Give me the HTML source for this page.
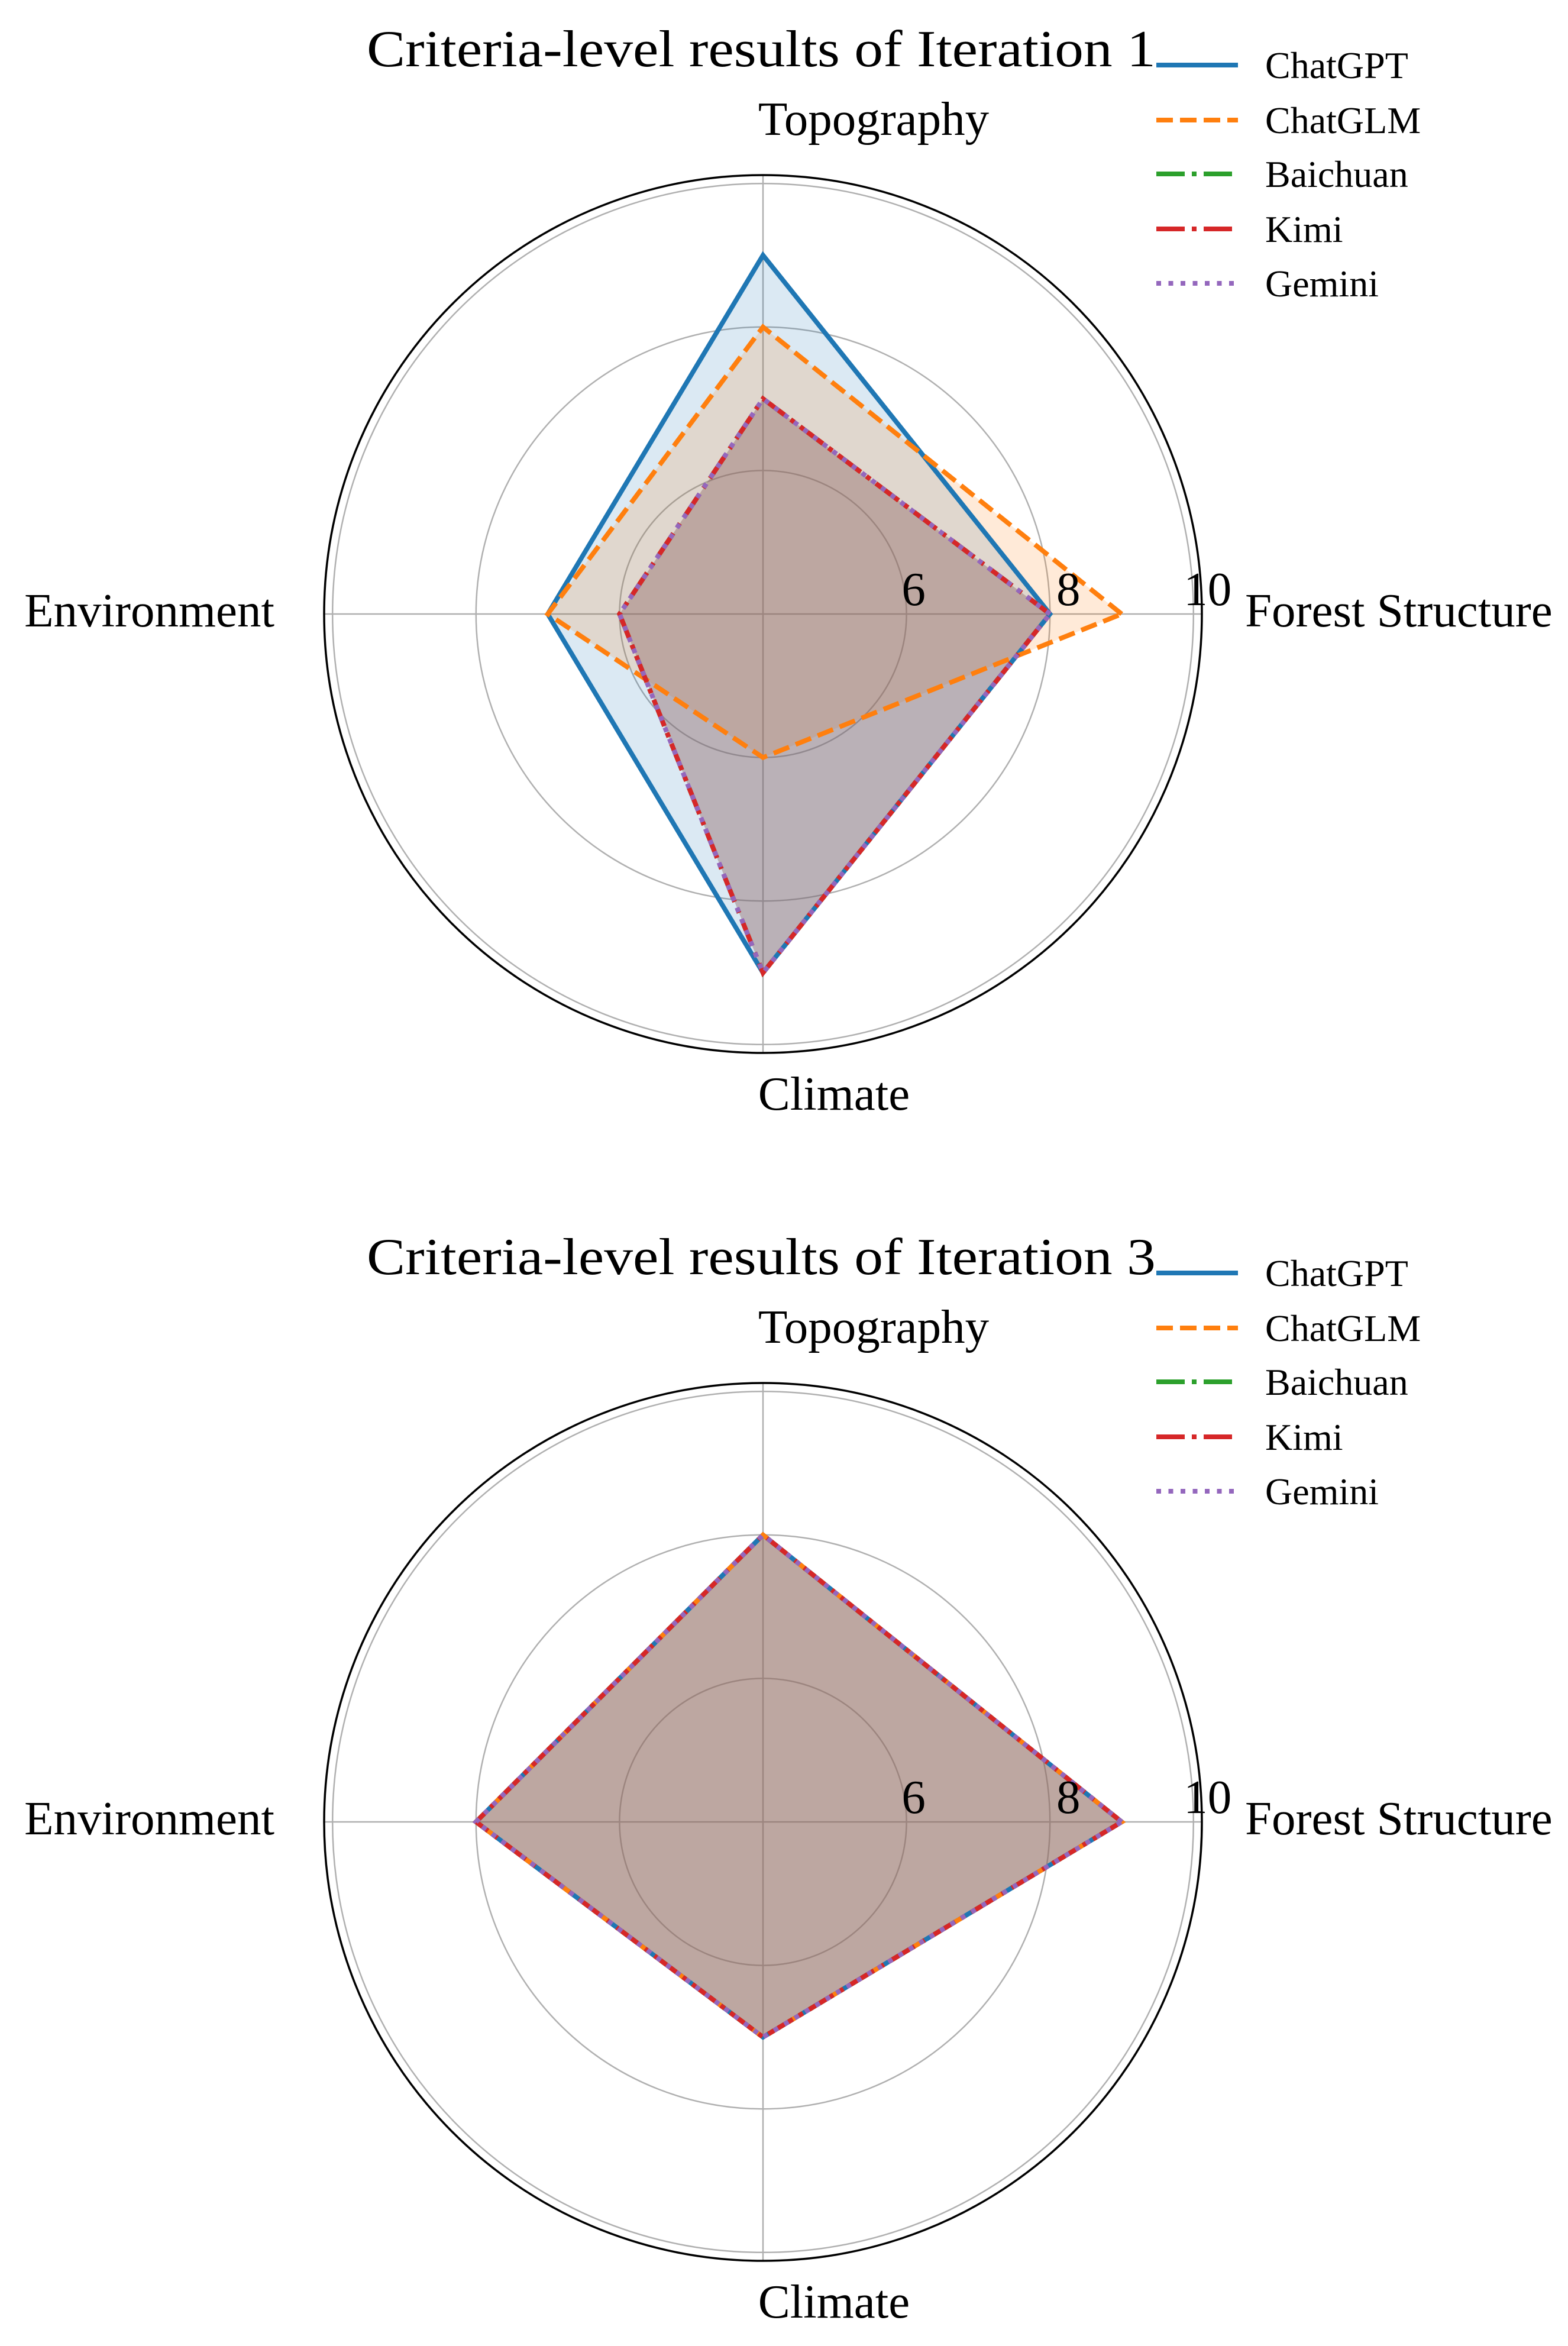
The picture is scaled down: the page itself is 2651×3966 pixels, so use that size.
<!DOCTYPE html>
<html><head><meta charset="utf-8"><style>
html,body{margin:0;padding:0;background:#fff;}
svg{display:block;font-family:"Liberation Serif",serif;}
</style></head><body>
<svg id="chart" width="2651" height="3966" viewBox="0 0 2651 3966" xmlns="http://www.w3.org/2000/svg"></svg>
<script>
const categories = ["Forest Structure", "Topography", "Environment", "Climate"];
const seriesNames = ["ChatGPT", "ChatGLM", "Baichuan", "Kimi", "Gemini"];
const iter1ChatGPT = [8, 9, 7, 9];
const iter1ChatGLM = [9, 8, 7, 6];
const iter1Baichuan = [8, 7, 6, 9];
const iter1Kimi = [8, 7, 6, 9];
const iter1Gemini = [8, 7, 6, 9];
const iter3ChatGPT = [9, 8, 8, 7];
const iter3ChatGLM = [9, 8, 8, 7];
const iter3Baichuan = [9, 8, 8, 7];
const iter3Kimi = [9, 8, 8, 7];
const iter3Gemini = [9, 8, 8, 7];
const tickValues = [6, 8, 10];
const tickLabels = ["6", "8", "10"];
const titles = ["Criteria-level results of Iteration 1", "Criteria-level results of Iteration 3"];

const NS = "http://www.w3.org/2000/svg";
const svg = document.getElementById("chart");
const colors = ["#1f77b4", "#ff7f0e", "#2ca02c", "#d62728", "#9467bd"];
const dashes = ["", "28 12", "48 12 8 12", "48 12 8 12", "8 12.5"];
const LW = 8;
const RMIN = 4, K = 121.3, ROUT = 742;
function rad(v){ return (v - RMIN) * K; }
function ang(i){ return i * Math.PI * 2 / categories.length; }
function px(cx, v, i){ return cx + rad(v) * Math.cos(ang(i)); }
function py(cy, v, i){ return cy - rad(v) * Math.sin(ang(i)); }
function mk(tag, attrs, parent){
  const e = document.createElementNS(NS, tag);
  for (const k in attrs) e.setAttribute(k, attrs[k]);
  (parent || svg).appendChild(e);
  return e;
}

function drawChart(cx, cy, oy, title, data, idx){
  const g = mk("g", {});
  
  
  tickValues.forEach((t) => {
    const c = mk("circle", {cx: cx, cy: cy, r: rad(t), fill: "none", stroke: "#b0b0b0", "stroke-width": 2.5}, g);
    
    
  });
  categories.forEach((c, i) => {
    const l = mk("line", {x1: cx, y1: cy, x2: cx + ROUT * Math.cos(ang(i)), y2: cy - ROUT * Math.sin(ang(i)), stroke: "#b0b0b0", "stroke-width": 2.5}, g);
    
    
  });
  const sp = mk("circle", {cx: cx, cy: cy, r: ROUT, fill: "none", stroke: "#000", "stroke-width": 3.5}, g);
  
  
  data.forEach((vals, s) => {
    const pts = vals.map((v, i) => px(cx, v, i).toFixed(1) + "," + py(cy, v, i).toFixed(1)).join(" ");
    const f = mk("polygon", {points: pts, fill: colors[s], "fill-opacity": 0.16, stroke: "none"}, g);
    
    
  });
  data.forEach((vals, s) => {
    const pts = vals.map((v, i) => px(cx, v, i).toFixed(1) + "," + py(cy, v, i).toFixed(1)).join(" ");
    const a = {points: pts, fill: "none", stroke: colors[s], "stroke-width": LW, "stroke-linejoin": "miter"};
    if (dashes[s]) a["stroke-dasharray"] = dashes[s];
    const p = mk("polygon", a, g);
    
    
  });
  const tickDx = [12, 31, 24];
  tickValues.forEach((t, k) => {
    const e = mk("text", {x: cx + rad(t) + tickDx[k], y: cy - 15, "font-size": 81, "text-anchor": "middle"}, g);
    e.textContent = tickLabels[k];
    
    
  });
  const labPos = [[2105, 21, "start"], [1477, -810, "middle"], [464, 21, "end"], [1410, 838, "middle"]];
  categories.forEach((c, i) => {
    const e = mk("text", {x: labPos[i][0], y: cy + labPos[i][1], "font-size": 81, "text-anchor": labPos[i][2]}, g);
    e.textContent = c;
    
    
  });
  const t = mk("text", {x: 1287, y: oy + 112, "font-size": 88, "text-anchor": "middle", textLength: 1334, lengthAdjust: "spacingAndGlyphs"}, g);
  t.textContent = title;
  
  
  const lg = mk("g", {}, g);
  
  
  const rows = [110, 203, 294, 387, 479];
  seriesNames.forEach((n, s) => {
    const a = {x1: 1955, x2: 2093, y1: oy + rows[s], y2: oy + rows[s], stroke: colors[s], "stroke-width": LW};
    if (dashes[s]) a["stroke-dasharray"] = dashes[s];
    const l = mk("line", a, lg);
    
    
    const e = mk("text", {x: 2139, y: oy + rows[s] + 22, "font-size": 64}, lg);
    e.textContent = n;
    
    
  });
}

drawChart(1290, 1038, 0, titles[0], [iter1ChatGPT, iter1ChatGLM, iter1Baichuan, iter1Kimi, iter1Gemini], 1);
drawChart(1290, 3080, 2042, titles[1], [iter3ChatGPT, iter3ChatGLM, iter3Baichuan, iter3Kimi, iter3Gemini], 3);
</script>
</body></html>
